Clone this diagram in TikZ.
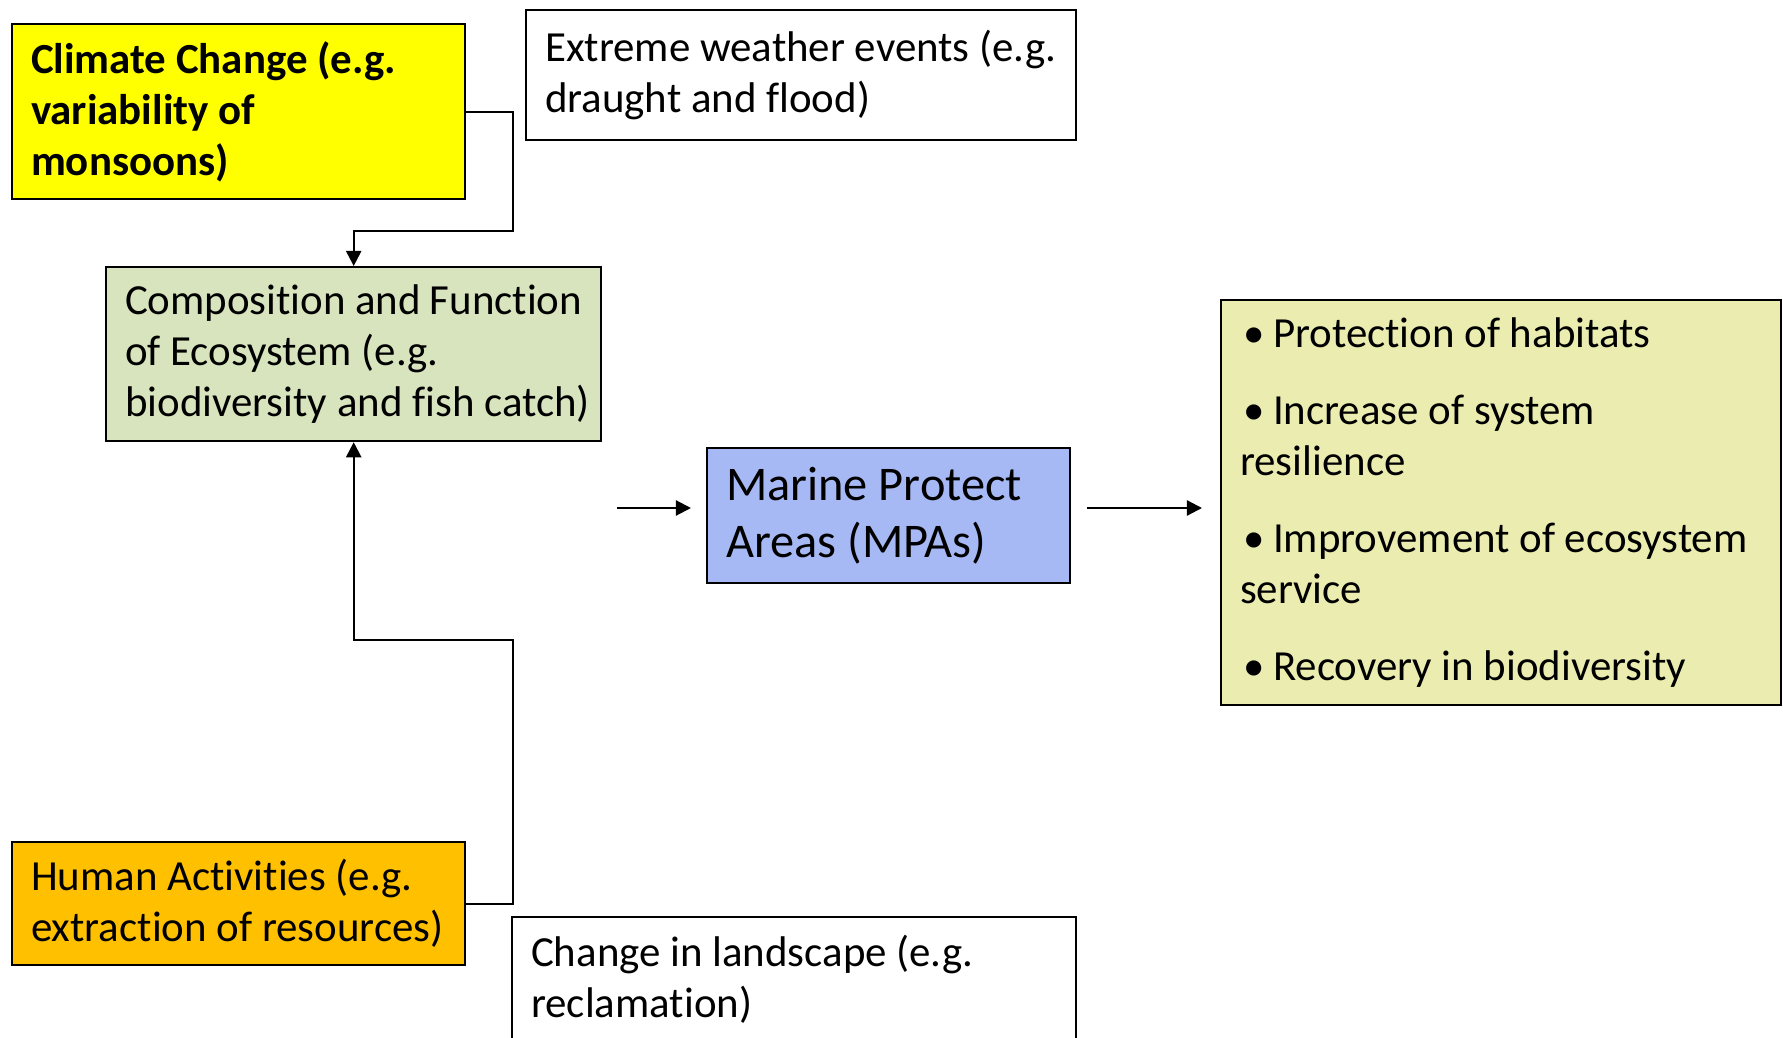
\documentclass[tikz,border=0pt]{standalone}
\usepackage{fontspec}
\setmainfont{Carlito}[Ligatures=NoCommon]
\usepackage{tikz}
\usetikzlibrary{positioning, arrows.meta}

\definecolor{climatefill}{HTML}{FFFF00}
\definecolor{ecofill}{HTML}{D7E4BD}
\definecolor{mpafill}{HTML}{A6B9F4}
\definecolor{resultfill}{HTML}{EBEDB0}
\definecolor{humanfill}{HTML}{FFC000}
\hyphenpenalty=10000

\begin{document}
\begin{tikzpicture}[x=0.01cm, y=-0.01cm, line width=0.6pt,
  box/.style = {draw, anchor=north west, align=flush left, inner xsep=0.19cm, inner ysep=0pt,
                font=\fontsize{12.2}{14.5}\selectfont},
  arr/.style = {-{Triangle[length=4.3pt, width=4.3pt]}}]
\clip (0,0) rectangle (1783,1037);

\node[box, fill=climatefill, text width=4.15cm, minimum height=1.75cm] (climate) at (11,23)
  {\bfseries Climate Change (e.g.\\ \bfseries variability of\\ \bfseries monsoons)};
\node[box, text width=5.12cm, minimum height=1.30cm] (extreme) at (525,9)
  {Extreme weather events (e.g.\\draught and flood)};
\node[box, fill=ecofill, text width=4.57cm, minimum height=1.74cm] (eco) at (105,266)
  {Composition and Function\\of Ecosystem (e.g.\\\mbox{biodiversity and fish catch)}};
\node[box, fill=mpafill, text width=3.25cm, minimum height=1.35cm,
      font=\fontsize{13.75}{16.2}\selectfont] (mpa) at (706,447)
  {Marine Protect\\Areas (MPAs)};
\node[box, fill=resultfill, text width=5.22cm, minimum height=4.05cm] (result) at (1220,299)
  {\hspace{0.9pt}\textbullet\hspace{2.4pt}Protection of habitats\\[7.4pt]
   \hspace{0.9pt}\textbullet\hspace{2.4pt}Increase of system\\resilience\\[7.4pt]
   \hspace{0.9pt}\textbullet\hspace{2.4pt}Improvement of ecosystem\\service\\[7.4pt]
   \hspace{0.9pt}\textbullet\hspace{2.4pt}Recovery in biodiversity};
\node[box, fill=humanfill, text width=4.15cm, minimum height=1.23cm] (human) at (11,841)
  {Human Activities (e.g.\\extraction of resources)};
\node[box, text width=5.26cm, minimum height=1.24cm] (change) at (511,916)
  {Change in landscape (e.g.\\reclamation)};

\coordinate (cbend) at (513,231);
\coordinate (hbend) at (513,640);

\draw[arr] (climate.east) -| (cbend) -| (eco.north);
\draw[arr] (human.east) -| (hbend) -| (eco.south);
\draw[arr, shorten <=0.15cm, shorten >=0.15cm] (eco.east |- 0,508) -- (mpa.west |- 0,508);
\draw[arr, shorten <=0.16cm, shorten >=0.18cm] (mpa.east |- 0,508) -- (result.west |- 0,508);
\end{tikzpicture}
\end{document}
